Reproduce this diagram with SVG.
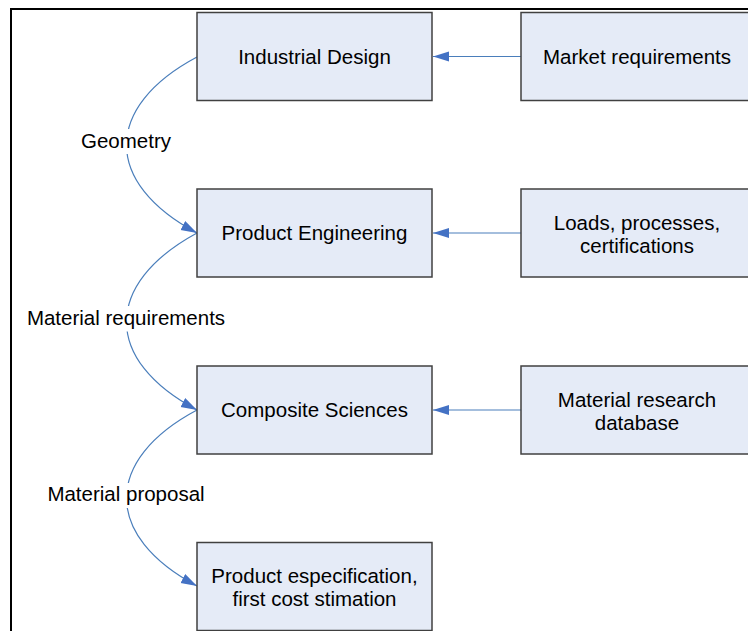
<svg xmlns="http://www.w3.org/2000/svg" width="748" height="631" viewBox="0 0 748 631">
  <style>
    .box { fill: #e5ebf7; stroke: #404040; stroke-width: 1.5; }
    .txt { font-family: "Liberation Sans", Arial, sans-serif; font-size: 20.5px; fill: #000; text-anchor: middle; }
    .conn { fill: none; stroke: #4a7ebb; stroke-width: 1.2; }
    .lblbg { fill: #ffffff; stroke: none; }
  </style>
  <defs>
    <marker id="ah" markerUnits="userSpaceOnUse" markerWidth="17" markerHeight="11" refX="16" refY="5" orient="auto">
      <path d="M0,0 L16,5 L0,10 Z" fill="#4472c4"/>
    </marker>
  </defs>
  <rect width="748" height="631" fill="#ffffff"/>
  <rect x="11" y="9" width="780" height="660" fill="none" stroke="#000" stroke-width="2"/>

  <g id="connectors">
    <path class="conn" d="M521,56.5 L433,56.5" marker-end="url(#ah)"/>
    <path class="conn" d="M521,233 L433,233" marker-end="url(#ah)"/>
    <path class="conn" d="M521,410 L433,410" marker-end="url(#ah)"/>
    <path class="conn" d="M197,57 C103,107 103,183 197,233" marker-end="url(#ah)"/>
    <path class="conn" d="M197,233 C103,284 103,360 197,410" marker-end="url(#ah)"/>
    <path class="conn" d="M197,410 C103,460 103,536 197,586" marker-end="url(#ah)"/>
    <g id="label-geometry">
      <rect class="lblbg" x="79" y="129" width="94" height="25"/>
      <text class="txt" x="126" y="148">Geometry</text>
    </g>
    <g id="label-matreq">
      <rect class="lblbg" x="25" y="306" width="203" height="25.5"/>
      <text class="txt" x="126" y="325">Material requirements</text>
    </g>
    <g id="label-matprop">
      <rect class="lblbg" x="46" y="483" width="160" height="25"/>
      <text class="txt" x="126" y="501">Material proposal</text>
    </g>
  </g>

  <g id="industrial-design">
    <rect class="box" x="197" y="12.5" width="235" height="88"/>
    <text class="txt" x="314.5" y="63.5">Industrial Design</text>
  </g>
  <g id="market-requirements">
    <rect class="box" x="521" y="12.5" width="235" height="88"/>
    <text class="txt" x="637" y="63.5">Market requirements</text>
  </g>
  <g id="product-engineering">
    <rect class="box" x="197" y="189" width="235" height="88"/>
    <text class="txt" x="314.5" y="240">Product Engineering</text>
  </g>
  <g id="loads">
    <rect class="box" x="521" y="189" width="235" height="88"/>
    <text class="txt" x="637" y="229.5">Loads, processes,</text>
    <text class="txt" x="637" y="252.5">certifications</text>
  </g>
  <g id="composite-sciences">
    <rect class="box" x="197" y="366" width="235" height="88"/>
    <text class="txt" x="314.5" y="417">Composite Sciences</text>
  </g>
  <g id="material-research">
    <rect class="box" x="521" y="366" width="235" height="88"/>
    <text class="txt" x="637" y="406.5">Material research</text>
    <text class="txt" x="637" y="429.5">database</text>
  </g>
  <g id="product-especification">
    <rect class="box" x="197" y="542.5" width="235" height="88"/>
    <text class="txt" x="314.5" y="582.5">Product especification,</text>
    <text class="txt" x="314.5" y="605.5">first cost stimation</text>
  </g>
</svg>
